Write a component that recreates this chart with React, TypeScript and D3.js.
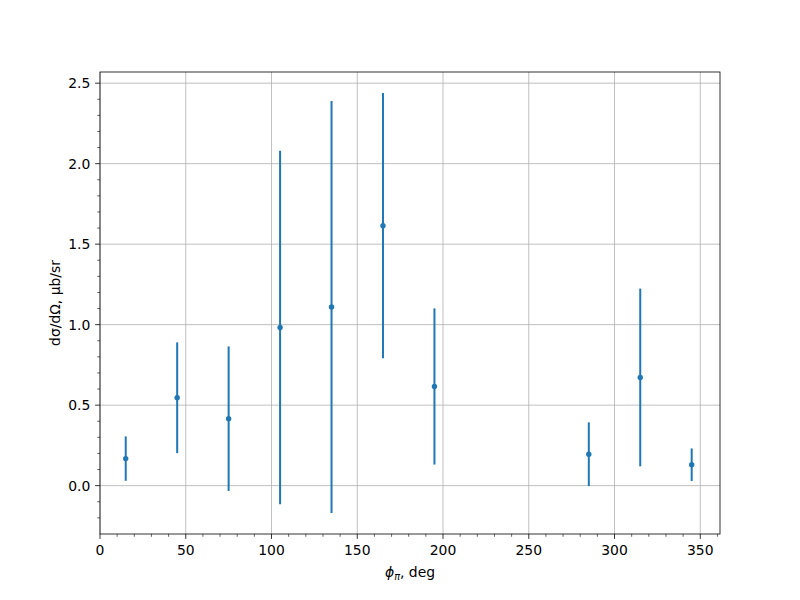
import React from "react";
import * as d3 from "d3";

const phi = [15, 45, 75, 105, 135, 165, 195, 285, 315, 345];
const sigma = [0.168, 0.546, 0.416, 0.982, 1.11, 1.615, 0.616, 0.195, 0.672, 0.13];
const err = [0.138, 0.344, 0.449, 1.098, 1.28, 0.824, 0.485, 0.198, 0.552, 0.101];
const xTicks = [0, 50, 100, 150, 200, 250, 300, 350];
const yTicks = [0, 0.5, 1.0, 1.5, 2.0, 2.5];

const W = 800, H = 600;
const L = 100, R = 720, T = 72, B = 534;
const FONT = "'DejaVu Sans', sans-serif";
const FS = 13.9;
const COLOR = "#1f77b4";

export default function App() {
  const lo = d3.min(sigma.map((v, i) => v - err[i]))!;
  const hi = d3.max(sigma.map((v, i) => v + err[i]))!;
  const pad = (hi - lo) * 0.05;
  const x = d3.scaleLinear().domain([0, 345 + (345 - 15) * 0.05]).range([L, R]);
  const y = d3.scaleLinear().domain([lo - pad, hi + pad]).range([B, T]);
  const xMinor = d3.range(0, x.domain()[1], 10).filter((v) => v % 50 !== 0);
  const yMinor = d3.range(-0.2, y.domain()[1], 0.1)
    .map((v) => Math.round(v * 10) / 10)
    .filter((v) => Math.abs((v * 10) % 5) > 1e-6);
  return (
    <svg width={W} height={H} style={{ position: "absolute", left: 0, top: 0, background: "#fff" }}>
      <rect x={0} y={0} width={W} height={H} fill="#fff" />
      {/* grid */}
      {xTicks.map((t) => (
        <line key={"gx" + t} x1={x(t)} x2={x(t)} y1={T} y2={B} stroke="#b0b0b0" strokeWidth={0.8} />
      ))}
      {yTicks.map((t) => (
        <line key={"gy" + t} x1={L} x2={R} y1={y(t)} y2={y(t)} stroke="#b0b0b0" strokeWidth={0.8} />
      ))}
      {/* error bars */}
      {phi.map((p, i) => (
        <line key={"e" + i} x1={x(p)} x2={x(p)} y1={y(sigma[i] - err[i])} y2={y(sigma[i] + err[i])} stroke={COLOR} strokeWidth={2} />
      ))}
      {phi.map((p, i) => (
        <circle key={"c" + i} cx={x(p)} cy={y(sigma[i])} r={2.7} fill={COLOR} />
      ))}
      {/* spines */}
      <rect x={L} y={T} width={R - L} height={B - T} fill="none" stroke="#000" strokeWidth={0.8} />
      {/* x ticks */}
      {xTicks.map((t) => (
        <g key={"xt" + t}>
          <line x1={x(t)} x2={x(t)} y1={B} y2={B + 4.9} stroke="#000" strokeWidth={0.8} />
          <text x={x(t)} y={555} textAnchor="middle" fontFamily={FONT} fontSize={FS} fill="#000">{t}</text>
        </g>
      ))}
      {xMinor.map((t) => (
        <line key={"xm" + t} x1={x(t)} x2={x(t)} y1={B} y2={B + 2.8} stroke="#000" strokeWidth={0.6} />
      ))}
      {/* y ticks */}
      {yTicks.map((t) => (
        <g key={"yt" + t}>
          <line x1={L - 4.9} x2={L} y1={y(t)} y2={y(t)} stroke="#000" strokeWidth={0.8} />
          <text x={L - 9.7} y={y(t)} dy="0.36em" textAnchor="end" fontFamily={FONT} fontSize={FS} fill="#000">{t.toFixed(1)}</text>
        </g>
      ))}
      {yMinor.map((t) => (
        <line key={"ym" + t} x1={L - 2.8} x2={L} y1={y(t)} y2={y(t)} stroke="#000" strokeWidth={0.6} />
      ))}
      {/* labels */}
      <text x={(L + R) / 2} y={577} textAnchor="middle" fontFamily={FONT} fontSize={FS} fill="#000">
        <tspan fontStyle="italic">ϕ</tspan>
        <tspan fontStyle="italic" fontSize={FS * 0.7} dy={3}>π</tspan>
        <tspan dy={-3}>, deg</tspan>
      </text>
      <text transform={`translate(60, ${(T + B) / 2}) rotate(-90)`} textAnchor="middle" fontFamily={FONT} fontSize={FS} fill="#000">
        dσ/dΩ, μb/sr
      </text>
    </svg>
  );
}
